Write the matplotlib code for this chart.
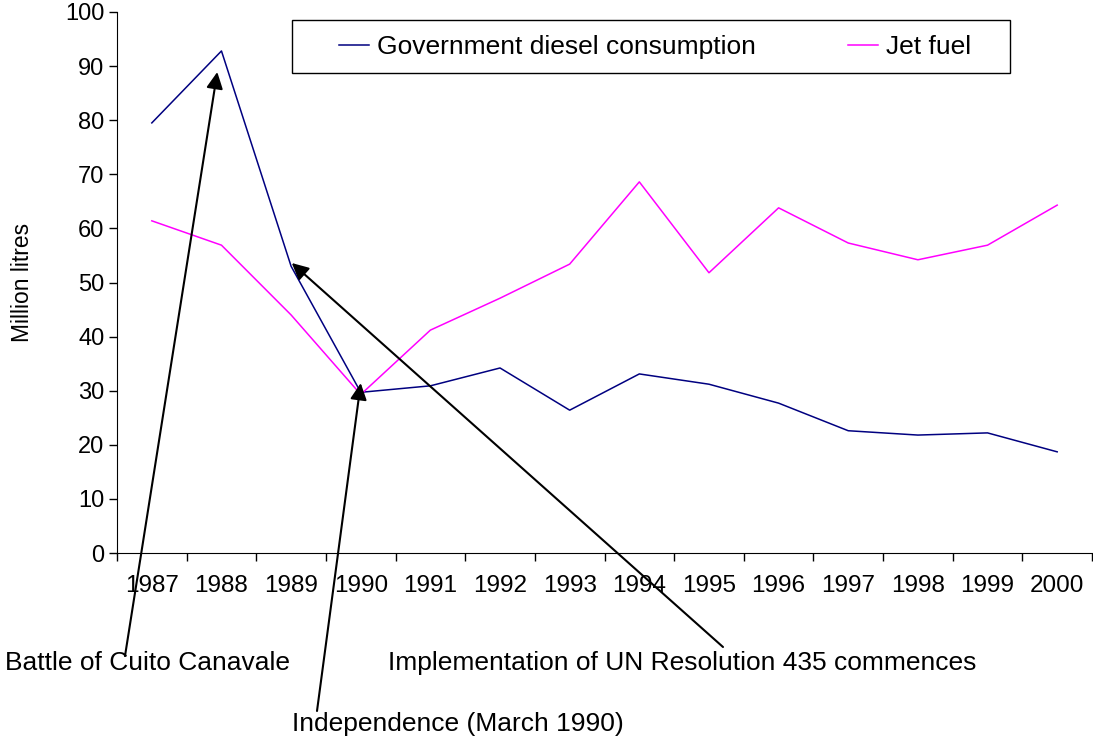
import numpy as np
import matplotlib
matplotlib.use('Agg')
import matplotlib.pyplot as plt
from matplotlib.patches import Rectangle

plt.rcParams['font.family'] = ['Liberation Sans', 'DejaVu Sans']

years = ['1987', '1988', '1989', '1990', '1991', '1992', '1993',
         '1994', '1995', '1996', '1997', '1998', '1999', '2000']
diesel = [79.5, 92.8, 53.0, 29.7, 30.9, 34.2, 26.4,
          33.1, 31.2, 27.7, 22.6, 21.8, 22.2, 18.7]
jet_fuel = [61.4, 56.9, 44.0, 29.3, 41.2, 47.1, 53.4,
            68.6, 51.8, 63.8, 57.3, 54.2, 56.9, 64.3]

W, H = 1093, 739
fig = plt.figure(figsize=(W / 100, H / 100), dpi=100)
ax = fig.add_axes([117 / W, 1 - 553 / H, 975 / W, 541 / H])

x = np.arange(len(years))
ax.plot(x, diesel, color='#000080', lw=1.1, label='Government diesel consumption')
ax.plot(x, jet_fuel, color='#FF00FF', lw=1.1, label='Jet fuel')

ax.set_xlim(-0.5, len(years) - 0.5)
ax.set_ylim(0, 100)
ax.set_yticks(np.arange(0, 101, 10))
ax.set_xticks(np.arange(len(years) + 1) - 0.5)
ax.set_xticklabels([])
ax.set_xticks(x, minor=True)
ax.set_xticklabels(years, minor=True)
ax.tick_params(axis='x', which='major', direction='out', length=6, width=1)
ax.tick_params(axis='x', which='minor', length=0, pad=16, labelsize=17.5)
ax.tick_params(axis='y', direction='out', length=6, width=1, pad=3, labelsize=17)
for s in ['top', 'right']:
    ax.spines[s].set_visible(False)
ax.set_ylabel('Million litres', fontsize=16.5)
ax.yaxis.set_label_coords(-0.085, 0.5)

# legend box drawn separately (wide side padding)
fig.patches.append(Rectangle((292 / W, 1 - 73 / H), 718 / W, 53 / H,
                             transform=fig.transFigure, fill=False,
                             edgecolor='black', lw=1.0))
leg = ax.legend(loc='center left', bbox_to_anchor=(339 / W, 1 - 47 / H),
                bbox_transform=fig.transFigure, ncol=2, fontsize=19,
                frameon=False, handlelength=1.13, handletextpad=0.3,
                columnspacing=3.5, borderpad=0, borderaxespad=0)

arrow = dict(arrowstyle='-|>,head_length=0.4,head_width=0.2', color='black',
             lw=1.5, mutation_scale=25, shrinkA=0, shrinkB=0)
# Battle of Cuito Canavale -> 1988 peak
ax.annotate('', xy=(0.94, diesel[1] - 3.9), xytext=(125 / W, 1 - 656 / H),
            textcoords='figure fraction', arrowprops=arrow)
# Independence -> 1990
ax.annotate('', xy=(3.0, diesel[3] + 1.7), xytext=(317 / W, 1 - 711 / H),
            textcoords='figure fraction', arrowprops=arrow)
# UN Resolution 435 -> 1989
ax.annotate('', xy=(2.01, diesel[2] + 0.6), xytext=(723 / W, 1 - 647 / H),
            textcoords='figure fraction', arrowprops=arrow)

fig.text(5 / W, 1 - 663 / H, 'Battle of Cuito Canavale', fontsize=19,
         ha='left', va='center')
fig.text(388 / W, 1 - 663 / H, 'Implementation of UN Resolution 435 commences',
         fontsize=19, ha='left', va='center')
fig.text(292 / W, 1 - 724 / H, 'Independence (March 1990)', fontsize=19,
         ha='left', va='center')

fig.savefig('out.png', dpi=100)
